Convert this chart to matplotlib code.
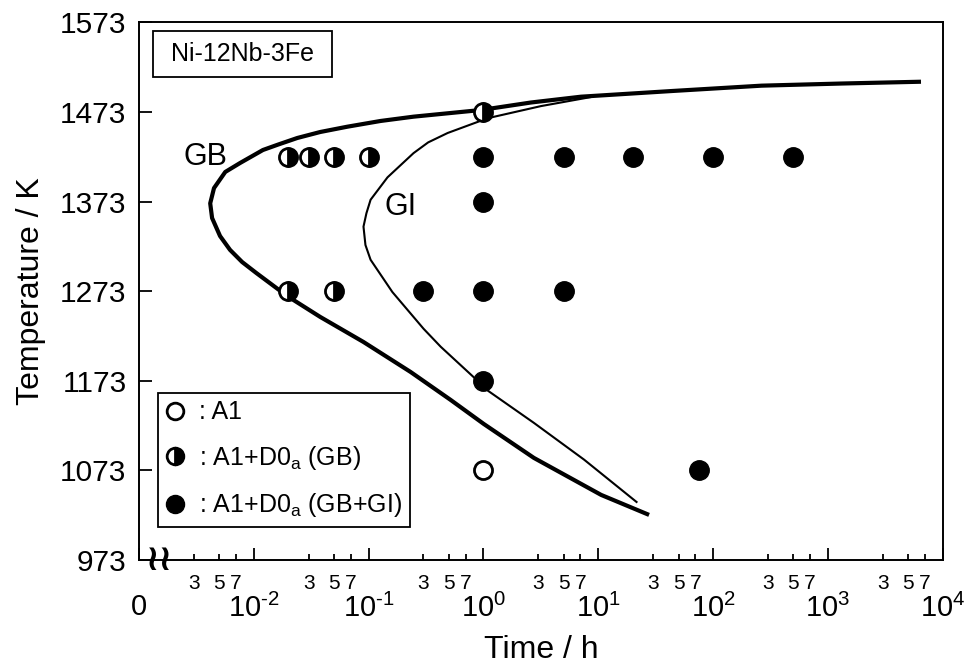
import numpy as np
import matplotlib
matplotlib.use("Agg")
import matplotlib.pyplot as plt
from matplotlib.lines import Line2D
from matplotlib.patches import Rectangle

plt.rcParams['font.family'] = ['Liberation Sans', 'DejaVu Sans']
plt.rcParams['mathtext.fontset'] = 'custom'
plt.rcParams['mathtext.rm'] = 'Liberation Sans'
plt.rcParams['mathtext.it'] = 'Liberation Sans'
plt.rcParams['mathtext.default'] = 'regular'

# Experimental points (time / h, temperature / K)
open_t = [1]
open_T = [1073]
half_t = [1, 0.02, 0.03, 0.05, 0.1, 0.02, 0.05]
half_T = [1473, 1423, 1423, 1423, 1423, 1273, 1273]
full_t = [1, 5, 20, 100, 500, 1, 0.3, 1, 5, 1, 75]
full_T = [1423, 1423, 1423, 1423, 1423, 1373, 1273, 1273, 1273, 1173, 1073]

# C-curves (GB: grain boundary, GI: grain interior)
gb_t = [6470, 1325, 264, 43.4, 7.08, 2.59, 0.946, 0.246, 0.127, 0.0652, 0.0379, 0.0239,
        0.0163, 0.0120, 0.00759, 0.00564, 0.00450, 0.00417, 0.00433, 0.00508, 0.00621,
        0.00791, 0.0105, 0.0195, 0.0379, 0.0901, 0.232, 0.518, 1.006, 2.75, 10.6, 27.7]
gb_T = [1506.7, 1504.7, 1502.3, 1496.3, 1490, 1483.5, 1475.1, 1467.7, 1462.9, 1456.5, 1450.6, 1443.9,
        1436.6, 1430.5, 1416, 1406, 1388, 1371, 1354.6, 1334.5, 1319,
        1305.5, 1293.3, 1267.6, 1244.2, 1216.3, 1182.8, 1151.6, 1124.8, 1086.9, 1045.6, 1023.3]
gi_t = [8.65, 3.17, 1.09, 0.488, 0.33, 0.246, 0.146, 0.104, 0.0957, 0.0902, 0.0938, 0.104,
        0.161, 0.301, 0.424, 0.822, 1.01, 2.75, 7.52, 21.9]
gi_T = [1489.6, 1479.5, 1466, 1449.5, 1439, 1427, 1400, 1375, 1360, 1345, 1324.5, 1308,
        1272, 1231, 1211, 1177, 1165, 1126, 1085, 1037]

# Axis ticks
x_major = [1e-3, 1e-2, 1e-1, 1e0, 1e1, 1e2, 1e3, 1e4]
x_major_labels = ['0', r'$10^{\text{-}2}$', r'$10^{\text{-}1}$', '$10^{0}$', '$10^{1}$',
                  '$10^{2}$', '$10^{3}$', '$10^{4}$']
x_minor = [m * 10.0**k for k in range(-3, 4) for m in (3, 5, 7)]
x_minor_labels = [str(m) for k in range(-3, 4) for m in (3, 5, 7)]
y_ticks = [973, 1073, 1173, 1273, 1373, 1473, 1573]

fig = plt.figure(figsize=(9.64, 6.66), dpi=100)
ax = fig.add_axes([0.1442, 0.1592, 0.8337, 0.8073])

ax.plot(gb_t, gb_T, color='black', lw=3.0, solid_capstyle='butt', solid_joinstyle='round', zorder=2)
ax.plot(gi_t, gi_T, color='black', lw=1.5, solid_capstyle='butt', solid_joinstyle='round', zorder=2)

ms = 13
ax.plot(open_t, open_T, 'o', ms=ms, mfc='white', mec='black', mew=2, zorder=3)
ax.plot(half_t, half_T, 'o', ms=ms, fillstyle='right', mfc='black', markerfacecoloralt='white',
        mec='black', mew=2, zorder=3)
ax.plot(full_t, full_T, 'o', ms=ms + 1, mfc='black', mec='black', mew=1, zorder=3)

ax.set_xscale('log')
ax.set_xlim(1e-3, 1e4)
ax.set_ylim(973, 1573)
ax.set_xticks(x_major, x_major_labels)
ax.set_xticks(x_minor, x_minor_labels, minor=True)
ax.set_yticks(y_ticks)
ax.tick_params(which='both', direction='in', top=False, right=False, width=1.3)
ax.tick_params(axis='x', which='major', length=9, pad=24, labelsize=21)
ax.tick_params(axis='x', which='minor', length=4, pad=10, labelsize=15)
ax.tick_params(axis='y', which='major', length=9, pad=9, labelsize=21.5)
ax.tick_params(axis='y', which='minor', left=False)
for s in ax.spines.values():
    s.set_linewidth(1.4)

ax.set_xlabel('Time / h', fontsize=23, labelpad=9)
ax.set_ylabel('Temperature / K', fontsize=23, labelpad=10)

# axis break mark
ax.text(0.026, 0.0, '\u2240\u2240', transform=ax.transAxes, ha='center', va='center',
        fontsize=26, fontweight='bold', family='DejaVu Sans', clip_on=False)

ax.text(0.00376, 1423, 'GB', fontsize=22, ha='center', va='center')
ax.text(0.19, 1367, 'GI', fontsize=22, ha='center', va='center')

ax.add_patch(Rectangle((0.017, 0.899), 0.223, 0.085, transform=ax.transAxes,
                       fill=False, ec='black', lw=1.3))
ax.text(0.1285, 0.9415, 'Ni-12Nb-3Fe', transform=ax.transAxes, fontsize=18,
        ha='center', va='center')

handles = [
    Line2D([], [], ls='none', marker='o', ms=12, mfc='white', mec='black', mew=2),
    Line2D([], [], ls='none', marker='o', ms=12, fillstyle='right', mfc='black',
           markerfacecoloralt='white', mec='black', mew=2),
    Line2D([], [], ls='none', marker='o', ms=13, mfc='black', mec='black'),
]
labels = [': A1', ': A1+D0$_a$ (GB)', ': A1+D0$_a$ (GB+GI)']
leg = ax.legend(handles, labels, loc='upper left', bbox_to_anchor=(0.0236, 0.311),
                borderaxespad=0, fontsize=18, handlelength=0.8, handletextpad=0.55,
                labelspacing=0.78, borderpad=0.3, fancybox=False, framealpha=1,
                edgecolor='black')
leg.get_frame().set_linewidth(1.3)

fig.savefig('out.png', dpi=100)
